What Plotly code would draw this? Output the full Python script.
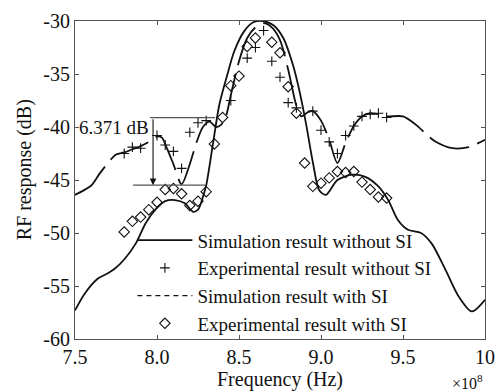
import plotly.graph_objects as go

# Frequency in units of 1e8 Hz
sim_no_si_f = [7.5, 7.56, 7.64, 7.7, 7.74, 7.8, 7.87, 7.93, 7.99, 8.05, 8.11, 8.17, 8.22, 8.25, 8.28,
               8.3, 8.34, 8.38, 8.43, 8.47, 8.53, 8.59, 8.645, 8.71, 8.77, 8.83, 8.87, 8.91, 8.95,
               8.99, 9.03, 9.1, 9.19, 9.27, 9.35, 9.41, 9.47, 9.53, 9.61, 9.675, 9.76, 9.84, 9.92, 10.0]
sim_no_si_db = [-57.3, -55.7, -54.3, -53.8, -53.4, -52.5, -51.0, -49.1, -47.8, -47.0, -46.9, -47.2, -48.0, -47.8, -46.6,
                -45.5, -41.7, -37.9, -35.0, -32.9, -31.0, -30.1, -30.0, -30.4, -31.6, -34.2, -36.7, -39.8, -43.3,
                -46.0, -46.4, -45.0, -44.5, -44.7, -45.6, -46.9, -48.8, -49.7, -50.0, -51.0, -53.5, -56.0, -57.4, -56.3]

sim_si_f = [7.5, 7.55, 7.6, 7.65, 7.69, 7.75, 7.8, 7.85, 7.9, 7.95, 8.0, 8.03, 8.06, 8.1, 8.15, 8.2, 8.24,
            8.28, 8.32, 8.36, 8.39, 8.42, 8.45, 8.5, 8.55, 8.6, 8.65, 8.7, 8.75, 8.8, 8.85, 8.88, 8.92,
            8.95, 9.0, 9.05, 9.1, 9.15, 9.2, 9.25, 9.3, 9.35, 9.4, 9.5, 9.58, 9.65, 9.7, 9.8, 9.9, 10.0]
sim_si_db = [-46.4, -46.0, -45.5, -44.4, -43.6, -42.6, -42.4, -42.1, -41.8, -41.4, -40.9, -41.0, -42.0, -43.5, -45.4, -43.5, -41.5,
             -40.0, -39.5, -40.0, -39.8, -39.0, -37.0, -33.8, -31.6, -30.6, -30.2, -30.6, -31.8, -34.6, -38.0, -39.0, -38.6,
             -38.5, -39.4, -41.2, -43.4, -41.5, -39.9, -39.0, -38.7, -38.8, -39.0, -39.0, -39.8, -40.8, -41.4, -42.0, -41.9, -41.2]

exp_no_si_f = [7.8, 7.85, 7.9, 8.0, 8.05, 8.1, 8.15, 8.2, 8.25, 8.3, 8.45, 8.55, 8.6, 8.65, 8.7, 8.75,
               8.8, 8.85, 8.95, 9.0, 9.05, 9.1, 9.15, 9.2, 9.25, 9.3, 9.35, 9.4]
exp_no_si_db = [-42.5, -41.9, -42.0, -40.8, -41.7, -42.3, -43.9, -40.5, -39.6, -39.4, -37.5, -33.5, -32.5, -30.9, -33.8, -35.3,
                -37.7, -38.2, -38.5, -40.3, -41.4, -42.5, -40.8, -39.9, -39.0, -38.8, -38.7, -39.1]

exp_si_f = [7.8, 7.85, 7.9, 7.95, 8.0, 8.05, 8.1, 8.15, 8.2, 8.25, 8.3, 8.35, 8.4, 8.45, 8.5, 8.55, 8.6,
            8.7, 8.75, 8.8, 8.85, 8.9, 8.95, 9.0, 9.05, 9.1, 9.15, 9.2, 9.25, 9.3, 9.35, 9.4]
exp_si_db = [-49.9, -48.9, -48.5, -47.8, -47.1, -45.9, -45.8, -46.3, -47.4, -47.0, -46.1, -41.6, -39.1, -36.1, -35.2, -32.4, -31.6,
             -32.0, -33.0, -36.2, -38.7, -43.4, -45.6, -45.3, -44.8, -44.2, -44.3, -44.2, -45.2, -45.9, -46.6, -46.7]

x_tickvals = [7.5, 8.0, 8.5, 9.0, 9.5, 10.0]
x_ticktext = ["7.5", "8.0", "8.5", "9.0", "9.5", "10"]
y_tickvals = [-30, -35, -40, -45, -50, -55, -60]
y_ticktext = ["-30", "-35", "-40", "-45", "-50", "-55", "-60"]

# 6.371 dB annotation markers
ann_top_db = -39.12
ann_bottom_db = -45.49
ann_top_f = (7.957, 8.354)
ann_bottom_f = (7.854, 8.293)
ann_arrow_f = 7.976

FONT = "Liberation Serif"
BLACK = "#111111"

fig = go.Figure()
fig.add_trace(go.Scatter(x=sim_no_si_f, y=sim_no_si_db, mode="lines", name="Simulation result without SI",
                         line=dict(color=BLACK, width=1.8, shape="spline", smoothing=0.8)))
fig.add_trace(go.Scatter(x=exp_no_si_f, y=exp_no_si_db, mode="markers", name="Experimental result without SI",
                         marker=dict(symbol="cross-thin", size=7, color=BLACK, line=dict(color=BLACK, width=1.1))))
fig.add_trace(go.Scatter(x=sim_si_f, y=sim_si_db, mode="lines", name="Simulation result with SI", showlegend=False,
                         line=dict(color=BLACK, width=1.8, shape="spline", smoothing=0.8, dash="42px,9px")))
fig.add_trace(go.Scatter(x=[None], y=[None], mode="lines", name="Simulation result with SI",
                         line=dict(color=BLACK, width=1.2, dash="5px,4px")))
fig.add_trace(go.Scatter(x=exp_si_f, y=exp_si_db, mode="markers", name="Experimental result with SI",
                         marker=dict(symbol="diamond-open", size=8, color=BLACK, line=dict(color=BLACK, width=1.1))))

# annotation lines
fig.add_shape(type="line", x0=ann_top_f[0], x1=ann_top_f[1], y0=ann_top_db, y1=ann_top_db,
              line=dict(color="#555555", width=1.2))
fig.add_shape(type="line", x0=ann_bottom_f[0], x1=ann_bottom_f[1], y0=ann_bottom_db, y1=ann_bottom_db,
              line=dict(color="#555555", width=1.2))
fig.add_annotation(x=ann_arrow_f, y=ann_bottom_db, ax=ann_arrow_f, ay=ann_top_db, xref="x", yref="y",
                   axref="x", ayref="y", text="", showarrow=True, arrowhead=2, arrowsize=1.2, arrowwidth=1.1,
                   arrowcolor=BLACK)
fig.add_annotation(x=ann_arrow_f - 0.015, y=-40.0, xref="x", yref="y", text="6.371 dB", showarrow=False,
                   xanchor="right", yanchor="middle", font=dict(family=FONT, size=19, color=BLACK))
fig.add_annotation(x=1.0, y=-0.135, xref="paper", yref="paper", text="×10<sup>8</sup>", showarrow=False,
                   xanchor="right", yanchor="middle", font=dict(family=FONT, size=16, color=BLACK))
# y-axis title
fig.add_annotation(x=-0.124, y=0.531, xref="paper", yref="paper", text="RF response (dB)", showarrow=False,
                   textangle=-90, xanchor="center", yanchor="middle", font=dict(family=FONT, size=20, color=BLACK))

axis_common = dict(showline=True, linecolor="#555555", linewidth=1.2, mirror="ticks", ticks="inside",
                   ticklen=4, tickcolor="#555555", showgrid=False, zeroline=False, automargin=False,
                   tickfont=dict(family=FONT, size=20, color=BLACK))
fig.update_xaxes(range=[7.5, 10.0], tickvals=x_tickvals, ticktext=x_ticktext,
                 title=dict(text="Frequency (Hz)", font=dict(family=FONT, size=20, color=BLACK), standoff=2),
                 **axis_common)
fig.update_yaxes(range=[-60, -30], tickvals=y_tickvals, ticktext=y_ticktext, **axis_common)
fig.update_layout(width=495, height=392, margin=dict(l=75, r=10, t=21, b=53, autoexpand=False),
                  plot_bgcolor="white", paper_bgcolor="white",
                  legend=dict(x=0.14, y=0.37, xanchor="left", yanchor="top", bgcolor="rgba(0,0,0,0)",
                              font=dict(family=FONT, size=19, color=BLACK), itemwidth=55,
                              tracegroupgap=0))
fig.write_html("out.html")
